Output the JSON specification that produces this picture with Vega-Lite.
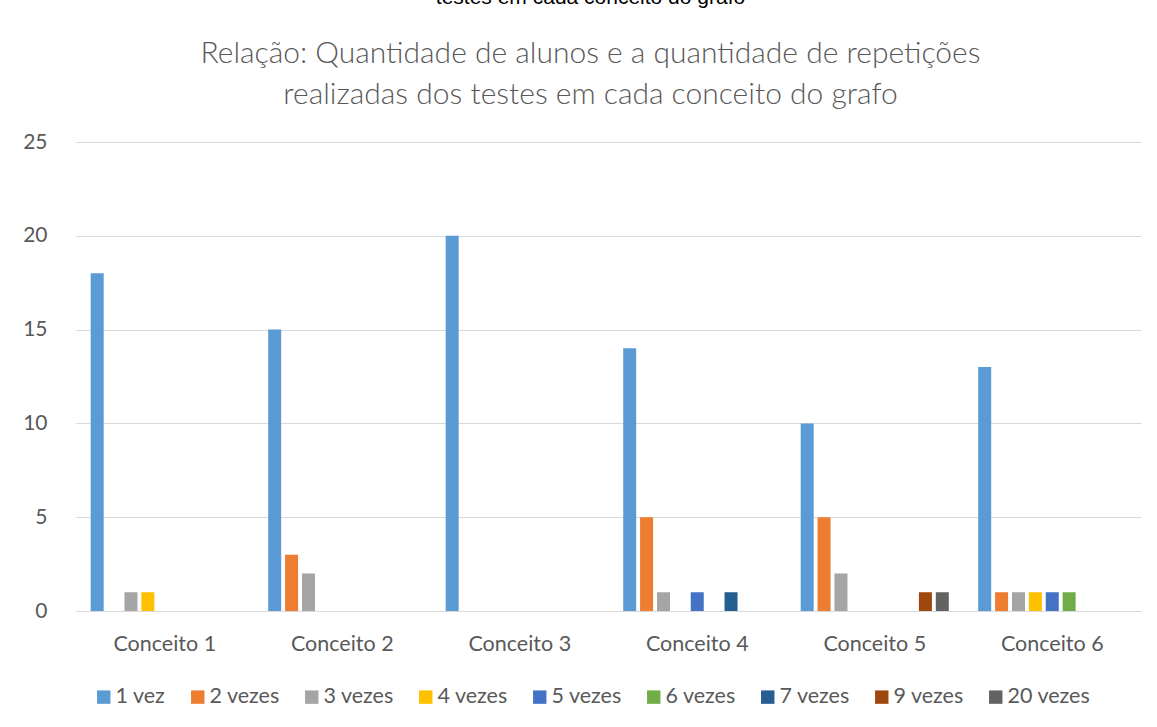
{
  "$schema": "https://vega.github.io/schema/vega-lite/v6.json",
  "autosize": {"type": "none"},
  "width": 1065,
  "height": 469,
  "padding": {"left": 76, "top": 142, "right": 16, "bottom": 116},
  "background": "white",
  "title": {
    "text": "testes em cada conceito do grafo",
    "subtitle": ["Relação: Quantidade de alunos e a quantidade de repetições", "realizadas dos testes em cada conceito do grafo"],
    "anchor": "middle",
    "frame": "group",
    "dx": -18,
    "offset": 21,
    "font": "Liberation Sans",
    "fontSize": 21,
    "fontWeight": "normal",
    "color": "#000000",
    "subtitleFont": "Lato",
    "subtitleFontSize": 30,
    "subtitleFontWeight": 300,
    "subtitleColor": "#595959",
    "subtitleLineHeight": 41,
    "subtitlePadding": 31
  },
  "data": {
    "values": [
      {"conceito": "Conceito 1", "repeticoes": "1 vez", "alunos": 18},
      {"conceito": "Conceito 1", "repeticoes": "3 vezes", "alunos": 1},
      {"conceito": "Conceito 1", "repeticoes": "4 vezes", "alunos": 1},
      {"conceito": "Conceito 2", "repeticoes": "1 vez", "alunos": 15},
      {"conceito": "Conceito 2", "repeticoes": "2 vezes", "alunos": 3},
      {"conceito": "Conceito 2", "repeticoes": "3 vezes", "alunos": 2},
      {"conceito": "Conceito 3", "repeticoes": "1 vez", "alunos": 20},
      {"conceito": "Conceito 4", "repeticoes": "1 vez", "alunos": 14},
      {"conceito": "Conceito 4", "repeticoes": "2 vezes", "alunos": 5},
      {"conceito": "Conceito 4", "repeticoes": "3 vezes", "alunos": 1},
      {"conceito": "Conceito 4", "repeticoes": "5 vezes", "alunos": 1},
      {"conceito": "Conceito 4", "repeticoes": "7 vezes", "alunos": 1},
      {"conceito": "Conceito 5", "repeticoes": "1 vez", "alunos": 10},
      {"conceito": "Conceito 5", "repeticoes": "2 vezes", "alunos": 5},
      {"conceito": "Conceito 5", "repeticoes": "3 vezes", "alunos": 2},
      {"conceito": "Conceito 5", "repeticoes": "9 vezes", "alunos": 1},
      {"conceito": "Conceito 5", "repeticoes": "20 vezes", "alunos": 1},
      {"conceito": "Conceito 6", "repeticoes": "1 vez", "alunos": 13},
      {"conceito": "Conceito 6", "repeticoes": "2 vezes", "alunos": 1},
      {"conceito": "Conceito 6", "repeticoes": "3 vezes", "alunos": 1},
      {"conceito": "Conceito 6", "repeticoes": "4 vezes", "alunos": 1},
      {"conceito": "Conceito 6", "repeticoes": "5 vezes", "alunos": 1},
      {"conceito": "Conceito 6", "repeticoes": "6 vezes", "alunos": 1}
    ]
  },
  "mark": {"type": "bar"},
  "encoding": {
    "x": {
      "field": "conceito",
      "type": "nominal",
      "scale": {"paddingInner": 0, "paddingOuter": 0},
      "axis": {
        "title": null,
        "labelAngle": 0,
        "ticks": false,
        "domainColor": "#d9d9d9",
        "domainWidth": 1,
        "labelFont": "Lato",
        "labelFontSize": 21.5,
        "labelColor": "#595959",
        "labelPadding": 22
      }
    },
    "xOffset": {
      "field": "repeticoes",
      "type": "nominal",
      "scale": {
        "domain": ["1 vez", "2 vezes", "3 vezes", "4 vezes", "5 vezes", "6 vezes", "7 vezes", "9 vezes", "20 vezes"],
        "paddingInner": 0.23,
        "paddingOuter": 0.87
      }
    },
    "y": {
      "field": "alunos",
      "type": "quantitative",
      "scale": {"domain": [0, 25]},
      "axis": {
        "title": null,
        "values": [0, 5, 10, 15, 20, 25],
        "ticks": false,
        "domain": false,
        "gridColor": "#d9d9d9",
        "gridWidth": 1,
        "labelFont": "Lato",
        "labelFontSize": 21,
        "labelColor": "#595959",
        "labelPadding": 29
      }
    },
    "color": {
      "field": "repeticoes",
      "type": "nominal",
      "scale": {
        "domain": ["1 vez", "2 vezes", "3 vezes", "4 vezes", "5 vezes", "6 vezes", "7 vezes", "9 vezes", "20 vezes"],
        "range": ["#5B9BD5", "#ED7D31", "#A5A5A5", "#FFC000", "#4472C4", "#70AD47", "#255E91", "#9E480E", "#636363"]
      },
      "legend": {
        "title": null,
        "orient": "none",
        "legendX": 17,
        "legendY": 544,
        "direction": "horizontal",
        "symbolType": "square",
        "symbolSize": 180,
        "symbolStrokeWidth": 0,
        "labelFont": "Lato",
        "labelFontSize": 21.5,
        "labelColor": "#595959",
        "labelOffset": 1,
        "columnPadding": 21
      }
    }
  },
  "config": {
    "view": {"stroke": null}
  }
}
